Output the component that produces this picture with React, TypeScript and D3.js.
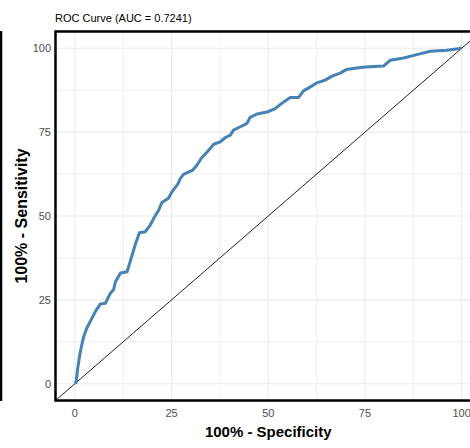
import React from "react";
import * as d3 from "d3";

const fpr = [0, 0.3, 0.7, 1.2, 1.7, 2.3, 3.1, 4.4, 5.3, 6.6, 7.9, 9.2, 10, 10.5, 11.8, 13.5, 14.3, 15.6, 16.7, 18.2, 19.5, 20.4, 21.7, 22.5, 24.2, 25.1, 26.6, 27.3, 28.1, 30.5, 31.6, 32.7, 34.2, 35.9, 37.6, 38.9, 40.2, 41, 42.8, 44.5, 45.3, 47.1, 49.7, 51.8, 53.4, 55.7, 57.8, 59.1, 60.9, 62.6, 64.7, 66.5, 68.6, 70.3, 72.9, 75, 79.8, 81.5, 85, 88.4, 91.9, 96.2, 100];
const tpr = [0, 0.3, 4.2, 8.1, 11.1, 14.1, 16.6, 19.5, 21.5, 23.8, 24.0, 27.0, 28, 30.4, 33, 33.4, 36.4, 41.4, 45, 45.3, 47.3, 49.3, 51.8, 54, 55.3, 57.2, 59.5, 61.2, 62.4, 63.7, 65.2, 67.2, 69.1, 71.4, 72.1, 73.4, 74.1, 75.6, 76.6, 77.6, 79.4, 80.4, 81, 82, 83.5, 85.3, 85.3, 87.3, 88.5, 89.7, 90.5, 91.7, 92.6, 93.7, 94.1, 94.4, 94.7, 96.4, 97.1, 98.1, 99.1, 99.4, 100];
const majorTicks = [0, 25, 50, 75, 100];
const minorTicks = [12.5, 37.5, 62.5, 87.5];
const titleText = "ROC Curve (AUC = 0.7241)";
const xTitle = "100% - Specificity";
const yTitle = "100% - Sensitivity";

export default function App() {
  const W = 470, H = 448;
  const x = d3.scaleLinear().domain([-5, 105]).range([55.5, 481]);
  const y = d3.scaleLinear().domain([-5, 105]).range([400.5, 31.5]);
  const pts: [number, number][] = fpr.map((f, i) => [f, tpr[i]]);
  const line = d3.line<[number, number]>().x(d => x(d[0])).y(d => y(d[1]));
  const font = "'Liberation Sans', Arial, Helvetica, sans-serif";
  const [x0, x1] = x.range();
  const [y0, y1] = y.range();
  return (
    <svg width={W} height={H} style={{ position: "absolute", left: 0, top: 0, fontFamily: font }}>
      <rect x={0} y={0} width={W} height={H} fill="#fff" />
      <defs>
        <clipPath id="pc"><rect x={x0} y={y1} width={x1 - x0} height={y0 - y1} /></clipPath>
      </defs>
      <g clipPath="url(#pc)">
        {minorTicks.map(t => (
          <g key={"m" + t}>
            <line x1={x(t)} x2={x(t)} y1={y1} y2={y0} stroke="#efefef" strokeWidth={1} />
            <line x1={x0} x2={x1} y1={y(t)} y2={y(t)} stroke="#efefef" strokeWidth={1} />
          </g>
        ))}
        {majorTicks.map(t => (
          <g key={"M" + t}>
            <line x1={x(t)} x2={x(t)} y1={y1} y2={y0} stroke="#ebebeb" strokeWidth={1.1} />
            <line x1={x0} x2={x1} y1={y(t)} y2={y(t)} stroke="#ebebeb" strokeWidth={1.1} />
          </g>
        ))}
        <line x1={x(-5)} y1={y(-5)} x2={x(105)} y2={y(105)} stroke="#222" strokeWidth={1} />
        <path d={line(pts) || ""} fill="none" stroke="#4682b4" strokeWidth={3} strokeLinejoin="round" />
      </g>
      <rect x={x0} y={y1} width={x1 - x0} height={y0 - y1} fill="none" stroke="#000" strokeWidth={2.5} />
      <line x1={1} x2={1} y1={31} y2={401} stroke="#000" strokeWidth={2.5} />
      {majorTicks.map(t => (
        <text key={"yl" + t} x={51} y={y(t)} dy="0.35em" textAnchor="end" fontSize={11} fill="#4d4d4d">{t}</text>
      ))}
      {majorTicks.map(t => (
        <text key={"xl" + t} x={x(t)} y={417} textAnchor="middle" fontSize={11} fill="#4d4d4d">{t}</text>
      ))}
      <text x={55} y={22} fontSize={11} fill="#000">{titleText}</text>
      <text x={x(50)} y={437} textAnchor="middle" fontSize={15} fontWeight="bold" fill="#000">{xTitle}</text>
      <text transform={`translate(27,${y(50)}) rotate(-90)`} textAnchor="middle" fontSize={16} fontWeight="bold" fill="#000">{yTitle}</text>
    </svg>
  );
}
